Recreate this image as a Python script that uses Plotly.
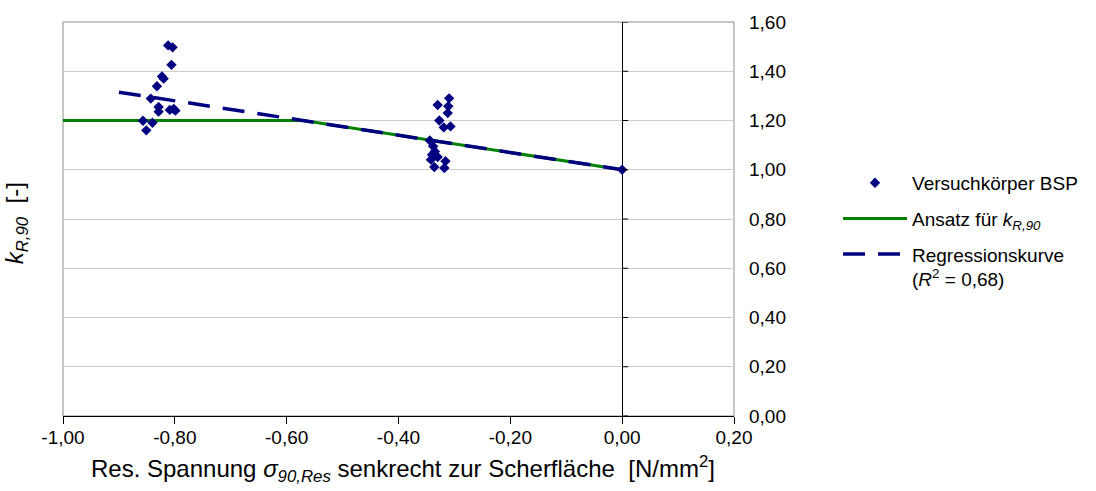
import plotly.graph_objects as go

# Test specimens (CLT): residual stress perpendicular to shear plane vs. k_R,90
spec_x = [-0.812, -0.804, -0.806, -0.823, -0.820, -0.832, -0.843, -0.829, -0.829,
          -0.809, -0.802, -0.799, -0.857, -0.840, -0.851,
          -0.3095, -0.330, -0.311, -0.312, -0.327, -0.319, -0.307, -0.344, -0.338,
          -0.335, -0.340, -0.330, -0.342, -0.316, -0.336, -0.318,
          0.000]
spec_y = [1.505, 1.497, 1.426, 1.379, 1.370, 1.339, 1.289, 1.255, 1.236,
          1.243, 1.247, 1.240, 1.199, 1.191, 1.160,
          1.290, 1.263, 1.258, 1.230, 1.200, 1.172, 1.176, 1.119, 1.095,
          1.074, 1.061, 1.052, 1.041, 1.035, 1.011, 1.007,
          1.000]

# Design approach for k_R,90 (capped at 1,20)
approach_x = [-1.00, -0.57, 0.00]
approach_y = [1.20, 1.20, 1.00]

# Linear regression curve
regr_x = [-0.90, 0.00]
regr_y = [1.315, 1.00]

x_tick_vals = [-1.0, -0.8, -0.6, -0.4, -0.2, 0.0, 0.2]
x_tick_text = ["-1,00", "-0,80", "-0,60", "-0,40", "-0,20", "0,00", "0,20"]
y_tick_vals = [0.0, 0.2, 0.4, 0.6, 0.8, 1.0, 1.2, 1.4, 1.6]
y_tick_text = ["0,00", "0,20", "0,40", "0,60", "0,80", "1,00", "1,20", "1,40", "1,60"]

FONT = "Liberation Sans, Arial, sans-serif"
NAVY = "#000080"
GREEN = "#008000"

fig = go.Figure()

fig.add_trace(go.Scatter(
    x=approach_x, y=approach_y, mode="lines",
    line=dict(color=GREEN, width=3),
    name="Ansatz für <i>k<sub>R,90</sub></i>", legendrank=2, legendgroup="b",
))
fig.add_trace(go.Scatter(
    x=regr_x, y=regr_y, mode="lines",
    line=dict(color=NAVY, width=3.5, dash="22px,13px"),
    name="Regressionskurve<br>(<i>R</i><sup>2</sup> = 0,68)", legendrank=3, legendgroup="c",
))
fig.add_trace(go.Scatter(
    x=spec_x, y=spec_y, mode="markers",
    marker=dict(symbol="diamond", size=8, color=NAVY),
    name="Versuchkörper BSP", legendrank=1, legendgroup="a",
))

# grey frame around the plot area
fig.add_shape(type="rect", xref="x domain", yref="y domain", x0=0, x1=1, y0=0, y1=1,
              line=dict(color="#8c8c8c", width=1), layer="below")

# small tick marks on the vertical axis through x = 0
for yv in y_tick_vals:
    fig.add_shape(type="line", xref="x", yref="y", xsizemode="pixel", xanchor=0,
                  x0=0, x1=6, y0=yv, y1=yv, line=dict(color="black", width=1))

fig.update_layout(
    width=1096, height=491,
    margin=dict(l=63, r=362, t=22, b=75),
    paper_bgcolor="white", plot_bgcolor="white",
    font=dict(family=FONT, size=19, color="black"),
    showlegend=True,
    legend=dict(x=1.155, y=0.64, xanchor="left", yanchor="top",
                valign="top", itemwidth=64, tracegroupgap=8,
                bgcolor="rgba(0,0,0,0)", font=dict(size=19)),
    xaxis=dict(range=[-1.0, 0.2], tickvals=x_tick_vals, ticktext=x_tick_text,
               showgrid=False, zeroline=True, zerolinecolor="black", zerolinewidth=1,
               showline=True, linecolor="black", linewidth=1,
               ticks="outside", ticklen=7, tickcolor="black", tickwidth=1,
               ticklabelstandoff=-3),
    yaxis=dict(range=[0.0, 1.6], tickvals=y_tick_vals, ticktext=y_tick_text,
               side="right", showgrid=True, gridcolor="#cccccc", gridwidth=1,
               zeroline=False, showline=False, ticks="", ticklabelstandoff=14),
    annotations=[
        dict(text="Res. Spannung <i>σ<sub>90,Res</sub></i> senkrecht zur Scherfläche  [N/mm<sup>2</sup>]",
             xref="paper", yref="paper", x=0.507, y=-0.135, xanchor="center", yanchor="middle",
             showarrow=False, font=dict(size=24)),
        dict(text="<i>k<sub>R,90</sub></i>  [-]",
             xref="paper", yref="paper", x=-0.068, y=0.49, xanchor="center", yanchor="middle",
             textangle=-90, showarrow=False, font=dict(size=24)),
    ],
)

fig.write_html("out.html")
